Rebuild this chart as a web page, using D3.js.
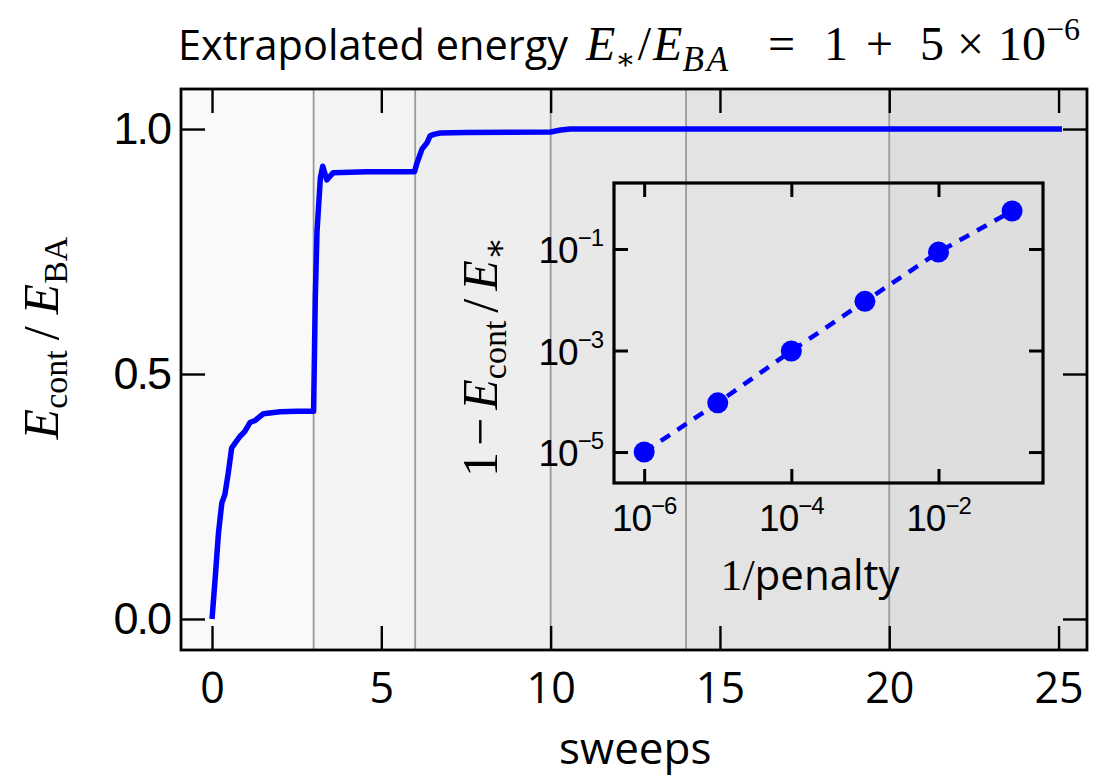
<!DOCTYPE html>
<html><head><meta charset="utf-8">
<script src="https://cdn.jsdelivr.net/npm/d3@7"></script>
<style>
html,body{margin:0;padding:0;background:#fff;}
svg{display:block;}
.sans{font-family:"Open Sans","Liberation Sans",sans-serif;}
.arial{font-family:"Liberation Sans",Arial,sans-serif;}
.serif{font-family:"Liberation Serif","DejaVu Serif",serif;}
</style></head>
<body>
<script>
// ---- data ----
const sweeps = [0,0.09,0.19,0.29,0.38,0.48,0.58,0.68,0.83,0.97,1.12,1.27,1.52,2.01,2.5,3.0,3.05,3.1,3.2,3.27,3.39,3.58,4.57,5.98,6.05,6.2,6.35,6.44,6.55,6.74,7.5,10.0,10.3,10.58,12,15,20,25.1];
const energy = [0,0.08,0.175,0.237,0.254,0.298,0.349,0.359,0.373,0.383,0.401,0.405,0.419,0.423,0.424,0.424,0.657,0.79,0.90,0.924,0.896,0.911,0.913,0.913,0.93,0.959,0.972,0.986,0.989,0.992,0.993,0.994,0.998,1.0,1.0,1.0,1.0,1.0];
const bandEdges = [3,6,10,14,20];
const bandColors = ["#f9f9f9","#f3f3f3","#eeeeee","#e8e8e8","#e3e3e3","#dedede"];
const xTicks = [0,5,10,15,20,25];
const yTicks = [0.0,0.5,1.0];
const invPenalty = [1e-6,1e-5,1e-4,1e-3,1e-2,1e-1];
const relError = [1.0e-5,9.3e-5,9.8e-4,9.3e-3,0.087,0.56];
const insetXTicks = [-6,-4,-2];
const insetYTicks = [-1,-3,-5];

const W=1102,H=781;
const svg=d3.select("body").append("svg").attr("width",W).attr("height",H);

// ---- main plot ----
const L=181,R=1087,T=89,B=650;
const x=d3.scaleLinear().domain([-0.916,25.84]).range([L,R]);
const y=d3.scaleLinear().domain([-0.0633,1.0817]).range([B,T]);

const edges=[x.domain()[0],...bandEdges,x.domain()[1]];
svg.append("g").selectAll("rect").data(bandColors).join("rect")
  .attr("x",(d,i)=>x(edges[i])).attr("width",(d,i)=>x(edges[i+1])-x(edges[i]))
  .attr("y",T).attr("height",B-T).attr("fill",d=>d);
svg.append("g").selectAll("line").data(bandEdges).join("line")
  .attr("x1",d=>x(d)).attr("x2",d=>x(d)).attr("y1",T).attr("y2",B)
  .attr("stroke","#9a9a9a").attr("stroke-width",1.8);

const line=d3.line().x((d,i)=>x(sweeps[i])).y(d=>y(d));
svg.append("path").datum(energy).attr("d",line).attr("fill","none")
  .attr("stroke","#0000ff").attr("stroke-width",5.5).attr("stroke-linejoin","round");

const tk=24;
const gxB=svg.append("g").attr("transform",`translate(0,${B})`)
  .call(d3.axisBottom(x).tickValues(xTicks).tickSize(-tk).tickPadding(22).tickFormat(d3.format("d")));
const gxT=svg.append("g").attr("transform",`translate(0,${T})`)
  .call(d3.axisTop(x).tickValues(xTicks).tickSize(-tk).tickFormat(""));
const gyL=svg.append("g").attr("transform",`translate(${L},0)`)
  .call(d3.axisLeft(y).tickValues(yTicks).tickSize(-tk).tickPadding(11).tickFormat(d3.format(".1f")));
const gyR=svg.append("g").attr("transform",`translate(${R},0)`)
  .call(d3.axisRight(y).tickValues(yTicks).tickSize(-tk).tickFormat(""));
[gxB,gxT,gyL,gyR].forEach(g=>{g.select(".domain").remove();
  g.selectAll(".tick line").attr("stroke","#000").attr("stroke-width",2.4);});
gxB.selectAll(".tick text").attr("class","sans").attr("font-size",43).attr("fill","#000");
gyL.selectAll(".tick text").attr("class","arial").attr("font-size",45).attr("letter-spacing",-2).attr("fill","#000");
svg.append("rect").attr("x",L).attr("y",T).attr("width",R-L).attr("height",B-T)
  .attr("fill","none").attr("stroke","#000").attr("stroke-width",2.8);

svg.append("text").attr("class","sans").attr("x",(x(0)+x(25))/2).attr("y",764)
  .attr("text-anchor","middle").attr("font-size",44).text("sweeps");

// y label
const yl=svg.append("text").attr("class","serif").attr("font-size",50)
  .attr("transform","translate(58,338) rotate(-90)").attr("text-anchor","middle");
yl.append("tspan").attr("font-style","italic").text("E");
yl.append("tspan").attr("font-size",34).attr("dy",9).text("cont");
yl.append("tspan").attr("dy",-9).attr("dx",10).text("/");
yl.append("tspan").attr("dx",12).attr("font-style","italic").text("E");
yl.append("tspan").attr("font-size",34).attr("dy",9).text("BA");

// title
const tb=60;
svg.append("text").attr("class","sans").attr("x",178).attr("y",tb).attr("font-size",41.5)
  .text("Extrapolated energy");
const tm=svg.append("text").attr("class","serif").attr("y",tb).attr("font-size",48);
tm.append("tspan").attr("x",586).attr("font-style","italic").text("E");
tm.append("tspan").attr("font-size",30).attr("dy",9).text("∗");
tm.append("tspan").attr("dy",-9).attr("dx",2).text("/");
tm.append("tspan").attr("dx",2).attr("font-style","italic").text("E");
tm.append("tspan").attr("font-style","italic").attr("font-size",35).attr("dy",11).attr("letter-spacing",3).text("BA");
tm.append("tspan").attr("x",768).attr("dy",-11).text("=");
tm.append("tspan").attr("x",824).text("1");
tm.append("tspan").attr("x",866).text("+");
tm.append("tspan").attr("x",920).text("5");
tm.append("tspan").attr("x",957).text("×");
tm.append("tspan").attr("x",998).text("10");
tm.append("tspan").attr("font-size",32).attr("dy",-20).text("−6");

// ---- inset ----
const iL=614,iR=1043,iT=183,iB=483;
const ix=d3.scaleLog().domain([Math.pow(10,-6.41),Math.pow(10,-0.58)]).range([iL,iR]);
const iy=d3.scaleLog().domain([Math.pow(10,-5.61),Math.pow(10,0.30)]).range([iB,iT]);
const itk=14;
const ixv=insetXTicks.map(e=>Math.pow(10,e)), iyv=insetYTicks.map(e=>Math.pow(10,e));
const ig=svg.append("g");
const ixB=ig.append("g").attr("transform",`translate(0,${iB})`).call(d3.axisBottom(ix).tickValues(ixv).tickSize(-itk).tickFormat(""));
const ixT=ig.append("g").attr("transform",`translate(0,${iT})`).call(d3.axisTop(ix).tickValues(ixv).tickSize(-itk).tickFormat(""));
const iyL=ig.append("g").attr("transform",`translate(${iL},0)`).call(d3.axisLeft(iy).tickValues(iyv).tickSize(-itk).tickFormat(""));
const iyR=ig.append("g").attr("transform",`translate(${iR},0)`).call(d3.axisRight(iy).tickValues(iyv).tickSize(-itk).tickFormat(""));
[ixB,ixT,iyL,iyR].forEach(g=>{g.select(".domain").remove();
  g.selectAll(".tick line").attr("stroke","#000").attr("stroke-width",3);});
insetXTicks.forEach(e=>{
  const t=ig.append("text").attr("class","arial").attr("x",ix(Math.pow(10,e))).attr("y",531)
    .attr("text-anchor","middle").attr("font-size",37).attr("letter-spacing",-1);
  t.append("tspan").text("10");
  t.append("tspan").attr("font-size",24).attr("dy",-17).text("−"+(-e));
});
insetYTicks.forEach(e=>{
  const t=ig.append("text").attr("class","arial").attr("x",603).attr("y",iy(Math.pow(10,e))+14)
    .attr("text-anchor","end").attr("font-size",37).attr("letter-spacing",-1);
  t.append("tspan").text("10");
  t.append("tspan").attr("font-size",24).attr("dy",-17).text("−"+(-e));
});
ig.append("path").datum(relError).attr("fill","none").attr("stroke","#0000ff")
  .attr("stroke-width",4.5).attr("stroke-dasharray","11,9")
  .attr("d",d3.line().x((d,i)=>ix(invPenalty[i])).y(d=>iy(d)));
ig.append("g").selectAll("circle").data(relError).join("circle")
  .attr("cx",(d,i)=>ix(invPenalty[i])).attr("cy",d=>iy(d)).attr("r",10.5).attr("fill","#0000ff");
ig.append("rect").attr("x",iL).attr("y",iT).attr("width",iR-iL).attr("height",iB-iT)
  .attr("fill","none").attr("stroke","#000").attr("stroke-width",3.2);
const ixl=ig.append("text").attr("x",810).attr("y",590).attr("text-anchor","middle").attr("font-size",44);
ixl.append("tspan").attr("class","serif").text("1/");
ixl.append("tspan").attr("class","sans").attr("font-size",42).text("penalty");
const iyl=ig.append("text").attr("class","serif").attr("font-size",50)
  .attr("transform","translate(497,357) rotate(-90)").attr("text-anchor","middle");
iyl.append("tspan").text("1");
iyl.append("tspan").attr("dx",6).text("−");
iyl.append("tspan").attr("dx",8).attr("font-style","italic").text("E");
iyl.append("tspan").attr("font-size",34).attr("dy",9).text("cont");
iyl.append("tspan").attr("dy",-9).attr("dx",8).text("/");
iyl.append("tspan").attr("dx",8).attr("font-style","italic").text("E");
iyl.append("tspan").attr("font-size",34).attr("dy",9).text("∗");
</script>
</body></html>
